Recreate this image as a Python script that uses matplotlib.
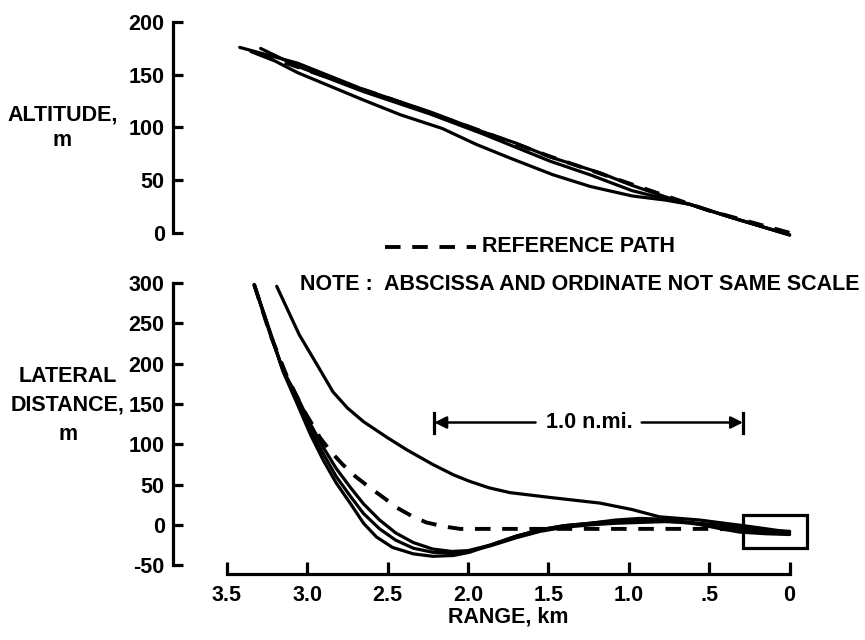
import matplotlib.pyplot as plt
from matplotlib.lines import Line2D
from matplotlib.patches import Rectangle

# ---- data (range in km, decreasing towards touchdown)
# Altitude panel
alt_r1 = [3.42, 3.06, 2.65, 2.24, 1.91, 1.70, 1.49, 1.18, 0.98, 0.77, 0.62, 0.35, 0.0]
alt_y1 = [176, 161, 136, 115, 96, 85, 72, 57, 45, 34, 27, 14, -2]
alt_r2 = [3.29, 3.06, 2.65, 2.24, 1.91, 1.49, 1.24, 0.98, 0.77, 0.62, 0.35, 0.0]
alt_y2 = [175, 158, 134, 113, 94, 68, 55, 40, 32, 27, 14, -2]
alt_r3 = [3.35, 3.20, 3.06, 2.65, 2.42, 2.16, 1.95, 1.74, 1.47, 1.24, 0.98, 0.77, 0.62, 0.35, 0.0]
alt_y3 = [172, 163, 152, 126, 112, 99, 84, 71, 55, 44, 35, 31, 27, 14, -2]
alt_ref_r = [3.30, 2.50, 2.00, 1.50, 1.00, 0.50, 0.0]
alt_ref_y = [170, 128, 101, 73, 47, 21, 0]

# Lateral panel
lat_r_up = [3.19, 3.05, 2.94, 2.84, 2.75, 2.65, 2.50, 2.38, 2.22, 2.09, 1.99, 1.87, 1.74,
            1.49, 1.18, 0.98, 0.81, 0.56, 0.25, 0.0]
lat_y_up = [296, 236, 199, 165, 145, 128, 108, 93, 75, 62, 54, 46, 40,
            34, 27, 19, 10, 6, -2, -9]
lat_r1 = [3.33, 3.23, 3.15, 3.06, 2.98, 2.90, 2.82, 2.73, 2.65, 2.57, 2.47, 2.34, 2.22, 2.09,
          1.99, 1.86, 1.70, 1.55, 1.40, 1.24, 1.08, 0.93, 0.78, 0.62, 0.45, 0.31, 0.15, 0.0]
lat_y1 = [298, 239, 190, 149, 112, 80, 52, 26, 2, -15, -28, -36, -39, -38,
          -34, -25, -14, -6, -1, 2, 6, 8, 7, 3, -4, -9, -11, -12]
lat_r2 = [3.33, 3.23, 3.15, 3.06, 2.98, 2.90, 2.82, 2.73, 2.65, 2.55, 2.45, 2.34, 2.22, 2.10,
          2.00, 1.86, 1.70, 1.55, 1.40, 1.24, 1.08, 0.93, 0.78, 0.62, 0.45, 0.30, 0.15, 0.0]
lat_y2 = [298, 236, 192, 158, 125, 96, 70, 46, 26, 6, -10, -22, -30, -33,
          -32, -25, -14, -6, -1, 2, 5, 6, 5, 2, -2, -6, -9, -10]
lat_r3 = [3.33, 3.23, 3.15, 3.06, 2.98, 2.90, 2.82, 2.73, 2.65, 2.55, 2.45, 2.34, 2.22, 2.10,
          2.00, 1.86, 1.70, 1.55, 1.40, 1.24, 1.08, 0.93, 0.78, 0.62, 0.45, 0.30, 0.15, 0.0]
lat_y3 = [298, 238, 191, 153, 118, 88, 60, 35, 14, -5, -19, -29, -34, -35,
          -33, -26, -16, -8, -3, 0, 2, 3, 4, 3, 0, -4, -7, -8]
lat_ref_r = [3.33, 3.23, 3.13, 3.03, 2.92, 2.85, 2.78, 2.70, 2.61, 2.52, 2.44, 2.35, 2.26,
             2.15, 2.05, 1.50, 1.00, 0.50, 0.25]
lat_ref_y = [298, 236, 186, 145, 108, 90, 75, 60, 46, 33, 21, 11, 3,
             -2, -5, -5, -5, -5, -6]

x_ticks = [3.5, 3.0, 2.5, 2.0, 1.5, 1.0, 0.5, 0.0]
x_ticklabels = ["3.5", "3.0", "2.5", "2.0", "1.5", "1.0", ".5", "0"]
alt_ticks = [0, 50, 100, 150, 200]
lat_ticks = [-50, 0, 50, 100, 150, 200, 250, 300]

nmi_left, nmi_right, nmi_y = 2.21, 0.29, 127
box_r0, box_r1, box_y0, box_y1 = 0.29, -0.11, -29, 12

FONT = ["Liberation Sans", "DejaVu Sans"]
FS = 15.5
W, H = 865, 640
LW = 2.3


def fx(px):
    return px / W


def fy(py):
    return 1 - py / H


def set_font(lab, size=None):
    lab.set_family(FONT)
    lab.set_fontweight("bold")
    lab.set_fontsize(size or FS)


def style_axis(ax, ylo, yhi, ticks):
    for s in ["top", "right"]:
        ax.spines[s].set_visible(False)
    ax.spines["left"].set_linewidth(LW)
    ax.spines["left"].set_bounds(ylo, yhi)
    ax.set_yticks(ticks)
    ax.set_yticklabels([str(t) for t in ticks])
    ax.tick_params(axis="y", direction="in", length=7, width=LW, pad=6)
    for lab in ax.get_yticklabels():
        set_font(lab)
    ax.set_xlim(3.835, -0.45)
    ax.patch.set_alpha(0)


fig = plt.figure(figsize=(8.65, 6.4), dpi=100)

# ---- altitude panel
ax1 = fig.add_axes([0.2, 0.628, 0.7965, 0.3375])
for r, y in [(alt_r1, alt_y1), (alt_r2, alt_y2), (alt_r3, alt_y3)]:
    ax1.plot(r, y, color="black", lw=LW, solid_capstyle="round")
ax1.plot(alt_ref_r, alt_ref_y, color="black", lw=2.8, dashes=(4, 3))
ax1.set_ylim(-5, 200)
style_axis(ax1, 0, 200, alt_ticks)
ax1.spines["bottom"].set_visible(False)
ax1.set_xticks([])

# ---- lateral panel
ax2 = fig.add_axes([0.2, 0.1031, 0.7965, 0.4609])
ax2.plot(lat_r_up, lat_y_up, color="black", lw=LW, solid_capstyle="round")
for r, y in [(lat_r1, lat_y1), (lat_r2, lat_y2), (lat_r3, lat_y3)]:
    ax2.plot(r, y, color="black", lw=LW, solid_capstyle="round")
ax2.plot(lat_ref_r, lat_ref_y, color="black", lw=2.8, dashes=(4, 3))
ax2.set_ylim(-61, 305)
style_axis(ax2, -50, 300, lat_ticks)
ax2.spines["bottom"].set_linewidth(LW)
ax2.spines["bottom"].set_bounds(3.5, 0.0)
ax2.set_xticks(x_ticks)
ax2.set_xticklabels(x_ticklabels)
ax2.tick_params(axis="x", direction="in", length=9, width=LW, pad=8)
for lab in ax2.get_xticklabels():
    set_font(lab)

# touchdown box
ax2.add_patch(Rectangle((box_r1, box_y0), box_r0 - box_r1, box_y1 - box_y0,
                        fill=False, lw=LW, ec="black"))

# 1.0 n.mi. dimension marker
ax2.plot([nmi_left, nmi_left], [nmi_y - 13, nmi_y + 12], color="black", lw=LW)
ax2.plot([nmi_right, nmi_right], [nmi_y - 13, nmi_y + 12], color="black", lw=LW)
arrow = dict(arrowstyle="-|>", color="black", lw=1.8, mutation_scale=18, shrinkA=0, shrinkB=0)
ax2.annotate("", xy=(nmi_left, nmi_y), xytext=(1.58, nmi_y), arrowprops=arrow)
ax2.annotate("", xy=(nmi_right, nmi_y), xytext=(0.92, nmi_y), arrowprops=arrow)
t = ax2.text(1.245, nmi_y, "1.0 n.mi.", ha="center", va="center")
set_font(t)

# ---- labels and notes
labels = [
    (63, 115, "ALTITUDE,", "center"),
    (62, 140, "m", "center"),
    (68, 376, "LATERAL", "center"),
    (68, 405, "DISTANCE,", "center"),
    (68, 435, "m", "center"),
    (508, 617, "RANGE, km", "center"),
    (482, 247, "REFERENCE PATH", "left"),
    (300, 285, "NOTE :  ABSCISSA AND ORDINATE NOT SAME SCALE", "left"),
]
for px, py, s, ha in labels:
    t = fig.text(fx(px), fy(py), s, ha=ha, va="center", color="black")
    set_font(t)

fig.add_artist(Line2D([fx(385), fx(476)], [fy(247), fy(247)], color="black",
                      lw=2.8, dashes=(4, 3), transform=fig.transFigure))

plt.savefig("out.png", dpi=100)
plt.close()
